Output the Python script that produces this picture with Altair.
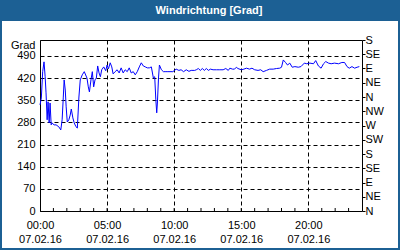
import altair as alt
import pandas as pd

# ---- data (minutes since midnight, wind direction in degrees) ----
minutes = [0, 6, 12, 18, 23, 27, 32, 36, 41, 45, 50, 54, 63, 72, 84, 93, 99, 104, 108, 113,
           117, 122, 129, 135, 140, 147, 153, 161, 167, 174, 180, 189, 198, 210, 216, 221, 228,
           234, 240, 246, 252, 258, 264, 270, 276, 285, 294, 300, 306, 314, 321, 327, 336, 345,
           354, 363, 372, 381, 390, 399, 408, 417, 426, 435, 444, 453, 462, 471, 480, 489, 498,
           507, 513, 518, 522, 525, 530, 534, 543, 552, 563, 572, 594, 609, 621, 631, 642, 654,
           666, 676, 692, 699, 708, 717, 726, 735, 744, 753, 762, 774, 789, 804, 819, 831, 842,
           849, 861, 870, 878, 885, 900, 912, 923, 937, 948, 960, 975, 987, 998, 1013, 1027,
           1043, 1058, 1072, 1080, 1088, 1098, 1107, 1117, 1128, 1140, 1155, 1167, 1182, 1193,
           1207, 1223, 1233, 1245, 1257, 1268, 1278, 1290, 1302, 1317, 1335, 1350, 1362, 1373,
           1383, 1395, 1407, 1418, 1428]
degrees = [335, 357, 440, 471, 424, 373, 288, 345, 278, 341, 272, 278, 272, 272, 266, 256, 288, 357, 414, 382,
           329, 281, 288, 303, 322, 294, 278, 266, 262, 360, 414, 430, 440, 420, 392, 376, 414,
           440, 392, 414, 420, 458, 436, 424, 446, 455, 443, 461, 449, 468, 455, 433, 440, 446,
           436, 452, 436, 446, 440, 452, 436, 440, 430, 440, 455, 468, 458, 455, 452, 452, 455,
           420, 424, 351, 310, 341, 420, 461, 446, 440, 440, 440, 440, 448, 444, 446, 440, 446,
           441, 444, 444, 446, 450, 444, 450, 444, 450, 444, 448, 446, 446, 446, 446, 450, 444,
           451, 448, 448, 454, 450, 446, 448, 451, 448, 451, 446, 444, 446, 440, 444, 448,
           448, 450, 451, 454, 477, 469, 461, 467, 454, 456, 454, 456, 467, 465,
           467, 465, 475, 458, 451, 465, 472, 467, 465, 467, 465, 469, 469, 456,
           451, 456, 451, 454, 456]

left_ticks = [0, 70, 140, 210, 280, 350, 420, 490]
right_ticks = [0, 45, 90, 135, 180, 225, 270, 315, 360, 405, 450, 495, 540]
dir_labels = ["N", "NE", "E", "SE", "S", "SW", "W", "NW"]
hour_ticks = [0, 5, 10, 15, 20]
minor_hours = list(range(1, 24))
date_label = "07.02.16"
title_text = "Windrichtung [Grad]"
y_title = "Grad"

BLUE = "#1c6094"
FONT = "Liberation Sans"

df = pd.DataFrame({"h": [m / 60 for m in minutes], "deg": degrees})
minor_df = pd.DataFrame({"h": minor_hours})
one = pd.DataFrame({"a": [0]})

x_scale = alt.Scale(domain=[0, 24], nice=False, zero=False)
y_scale = alt.Scale(domain=[0, 540], nice=False)

x_axis = alt.Axis(
    values=hour_ticks, grid=True, gridColor="black", gridDash=[4, 3], gridOpacity=1,
    ticks=False, domain=False, title=None,
    labelExpr="[(datum.value < 10 ? '0' : '') + datum.value + ':00', '" + date_label + "']",
    labelPadding=8, labelLineHeight=14, labelBaseline="top", labelFlush=False,
)
left_axis = alt.Axis(
    values=left_ticks, grid=True, gridColor="black", gridDash=[4, 3], gridOpacity=1,
    ticks=False, domain=False, labelPadding=5, labelBaseline="middle",
    title=y_title, titleAngle=0, titleAlign="right", titleBaseline="middle",
    titleX=-5, titleY=5, titleFontWeight="normal", titleFontSize=11, titleFont=FONT,
    titleColor="black",
)
dir_js = "[" + ",".join("'" + d + "'" for d in dir_labels) + "]"
right_axis = alt.Axis(
    orient="right", values=right_ticks, grid=False, ticks=True, tickSize=3,
    tickColor="black", domain=False, labelPadding=0, labelBaseline="middle",
    labelExpr=dir_js + "[(datum.value / 45) % 8]", title=None,
)

line = alt.Chart(df).mark_line(color="#0000ff", strokeWidth=1).encode(
    x=alt.X("h:Q", scale=x_scale, axis=x_axis),
    y=alt.Y("deg:Q", scale=y_scale, axis=left_axis),
)
right = alt.Chart(df).mark_line(opacity=0).encode(
    x=alt.X("h:Q", scale=x_scale, axis=x_axis),
    y=alt.Y("deg:Q", scale=y_scale, axis=right_axis),
)
minor = alt.Chart(minor_df).mark_rule(color="black", strokeWidth=1).encode(
    x=alt.X("h:Q", scale=x_scale, axis=x_axis),
    y=alt.value(168),
    y2=alt.value(171),
)
band = alt.Chart(one).mark_rect(color=BLUE).encode(
    x=alt.value(-40), x2=alt.value(360), y=alt.value(-40), y2=alt.value(-19)
)
frame = alt.Chart(one).mark_rect(filled=False, stroke=BLUE, strokeWidth=4).encode(
    x=alt.value(-40), x2=alt.value(360), y=alt.value(-40), y2=alt.value(210)
)
title = alt.Chart(one).mark_text(
    text=title_text, color="white", font=FONT, fontSize=11, fontWeight="bold",
    align="center", baseline="alphabetic",
).encode(x=alt.value(169), y=alt.value(-26))

chart = (
    alt.layer(line, right, minor, band, frame, title)
    .resolve_axis(y="independent")
    .properties(
        width=322, height=171,
        padding={"left": 40, "top": 40, "right": 38, "bottom": 39},
        autosize=alt.AutoSizeParams(type="none"),
        background="white",
    )
    .configure_view(stroke="black", strokeWidth=1)
    .configure_axis(labelFont=FONT, labelFontSize=11, labelColor="black")
)

chart.save("out.html", embed_options={"renderer": "svg", "actions": False})
